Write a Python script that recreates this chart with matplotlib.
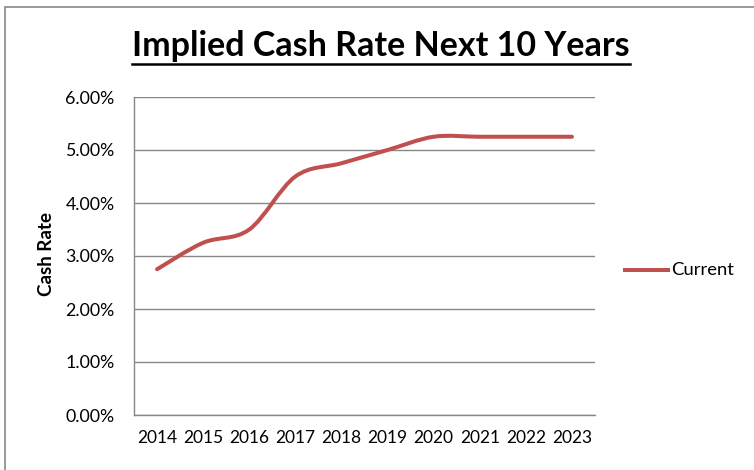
import matplotlib

matplotlib.use("Agg")
import matplotlib.pyplot as plt
import numpy as np
from matplotlib.lines import Line2D
from matplotlib.path import Path
from matplotlib.patches import PathPatch, Rectangle
from matplotlib.ticker import FuncFormatter, MultipleLocator

years = ["2014", "2015", "2016", "2017", "2018", "2019", "2020", "2021", "2022", "2023"]
current = [2.75, 3.25, 3.50, 4.50, 4.75, 5.00, 5.25, 5.25, 5.25, 5.25]

LINE_COLOR = "#C0504D"
GRID_COLOR = "#878787"
TEXT_COLOR = "#000000"

plt.rcParams["font.family"] = ["Lato", "DejaVu Sans"]


def smooth_path(xs, ys):
    # Bezier segments with Catmull-Rom style control points (spreadsheet "smoothed line")
    pts = np.column_stack([xs, ys]).astype(float)
    padded = np.vstack([pts[0], pts, pts[-1]])
    verts = [pts[0]]
    codes = [Path.MOVETO]
    for i in range(len(pts) - 1):
        p0, p1, p2, p3 = padded[i], padded[i + 1], padded[i + 2], padded[i + 3]
        c1 = p1 + (p2 - p0) / 6
        c2 = p2 - (p3 - p1) / 6
        verts += [c1, c2, p2]
        codes += [Path.CURVE4] * 3
    return Path(verts, codes)


fig = plt.figure(figsize=(7.54, 4.70), dpi=100)
ax = fig.add_axes([134 / 754, 1 - 415 / 470, (595 - 134) / 754, (415 - 97) / 470])

x = np.arange(len(years))
path = smooth_path(x, current)
ax.add_patch(PathPatch(path, facecolor="none", edgecolor=LINE_COLOR, lw=2.9,
                       capstyle="round", joinstyle="round", zorder=3))

ax.set_xlim(-0.5, len(years) - 0.5)
ax.set_ylim(0, 6)
ax.yaxis.set_major_locator(MultipleLocator(1))
ax.yaxis.set_major_formatter(FuncFormatter(lambda v, _: f"{v:.2f}%"))
ax.set_xticks(x)
ax.set_xticklabels(years)
ax.tick_params(length=0, colors=TEXT_COLOR)
ax.tick_params(axis="x", labelsize=12.5, pad=11)
ax.tick_params(axis="y", labelsize=12.8, pad=14)
ax.grid(axis="y", color=GRID_COLOR, lw=1)
ax.set_axisbelow(True)
for side in ["top", "right"]:
    ax.spines[side].set_visible(False)
for side in ["left", "bottom"]:
    ax.spines[side].set_color(GRID_COLOR)
    ax.spines[side].set_linewidth(1)

fig.text(47 / 754, 1 - 254 / 470, "Cash Rate", rotation=90, ha="center", va="center",
         fontsize=13.5, fontweight="bold", color=TEXT_COLOR)

# legend entry
fig.add_artist(Line2D([625 / 754, 668 / 754], [1 - 270 / 470] * 2, color=LINE_COLOR, lw=2.9))
fig.text(671 / 754, 1 - 270 / 470, "Current", ha="left", va="center", fontsize=13.3,
         color=TEXT_COLOR)

title = fig.text(381 / 754, 1 - 46 / 470, "Implied Cash Rate Next 10 Years", ha="center",
                 va="center", fontsize=24.5, fontweight="bold", color=TEXT_COLOR)

# chart frame
fig.add_artist(Rectangle((5 / 754, -0.1), 1.2, 1 - 7 / 470 + 0.1, transform=fig.transFigure,
                         facecolor="none", edgecolor=GRID_COLOR, lw=1.2))

# underline the title
fig.canvas.draw()
bb = title.get_window_extent().transformed(fig.transFigure.inverted())
fig.add_artist(Line2D([bb.x0, bb.x1], [1 - 64 / 470] * 2, color=TEXT_COLOR, lw=1.8))

fig.savefig("out.png", dpi=100)
